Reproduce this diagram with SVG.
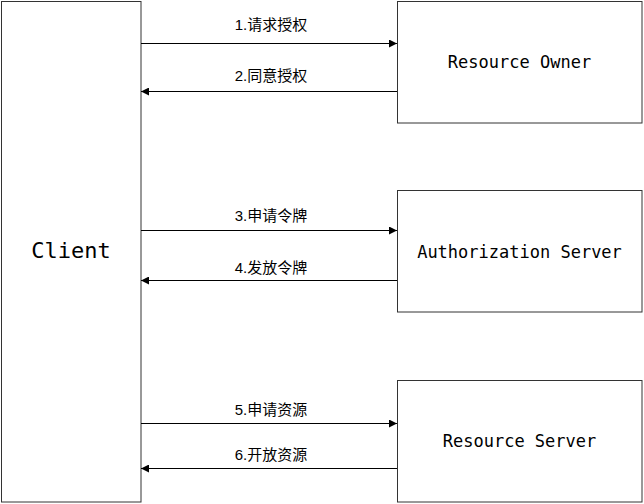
<svg xmlns="http://www.w3.org/2000/svg" width="644" height="504" viewBox="0 0 644 504">
<style>
.box{fill:#fff;stroke:#333;stroke-width:1}
.name{font-family:"DejaVu Sans Mono",monospace;font-size:17px;fill:#000;text-anchor:middle}
.lbl{font-family:"Liberation Sans","Noto Sans CJK SC",sans-serif;font-size:15px;fill:#000;text-anchor:middle}
.ln{stroke:#000;stroke-width:1;fill:none;marker-end:url(#ah)}
</style>
<defs>
<marker id="ah" viewBox="0 0 10 10" refX="10" refY="5" markerWidth="10" markerHeight="8" markerUnits="userSpaceOnUse" orient="auto">
<path d="M0,0 L10,5 L0,10 z" fill="#000"/>
</marker>
</defs>
<rect width="644" height="504" fill="#fff"/>
<g id="client">
<rect class="box" x="1.5" y="1.5" width="139.5" height="500.5"/>
<text class="name" x="71" y="258" style="font-size:22px">Client</text>
</g>
<g id="resource-owner">
<rect class="box" x="397.5" y="1.5" width="244.5" height="121.5"/>
<text class="name" x="519.5" y="68">Resource Owner</text>
</g>
<g id="authorization-server">
<rect class="box" x="397.5" y="190.5" width="244.5" height="121.5"/>
<text class="name" x="519.5" y="258">Authorization Server</text>
</g>
<g id="resource-server">
<rect class="box" x="397.5" y="380.5" width="244.5" height="121.5"/>
<text class="name" x="519.5" y="447">Resource Server</text>
</g>
<g id="connectors">
<line class="ln" x1="141" y1="43.5" x2="397" y2="43.5"/>
<line class="ln" x1="397" y1="91.5" x2="141" y2="91.5"/>
<line class="ln" x1="141" y1="230.5" x2="397" y2="230.5"/>
<line class="ln" x1="397" y1="280.5" x2="141" y2="280.5"/>
<line class="ln" x1="141" y1="423.5" x2="397" y2="423.5"/>
<line class="ln" x1="397" y1="468.5" x2="141" y2="468.5"/>
<text class="lbl" x="271" y="30">1.请求授权</text>
<text class="lbl" x="271" y="81">2.同意授权</text>
<text class="lbl" x="271" y="221">3.申请令牌</text>
<text class="lbl" x="271" y="273">4.发放令牌</text>
<text class="lbl" x="271" y="415">5.申请资源</text>
<text class="lbl" x="271" y="460">6.开放资源</text>
</g>
</svg>
